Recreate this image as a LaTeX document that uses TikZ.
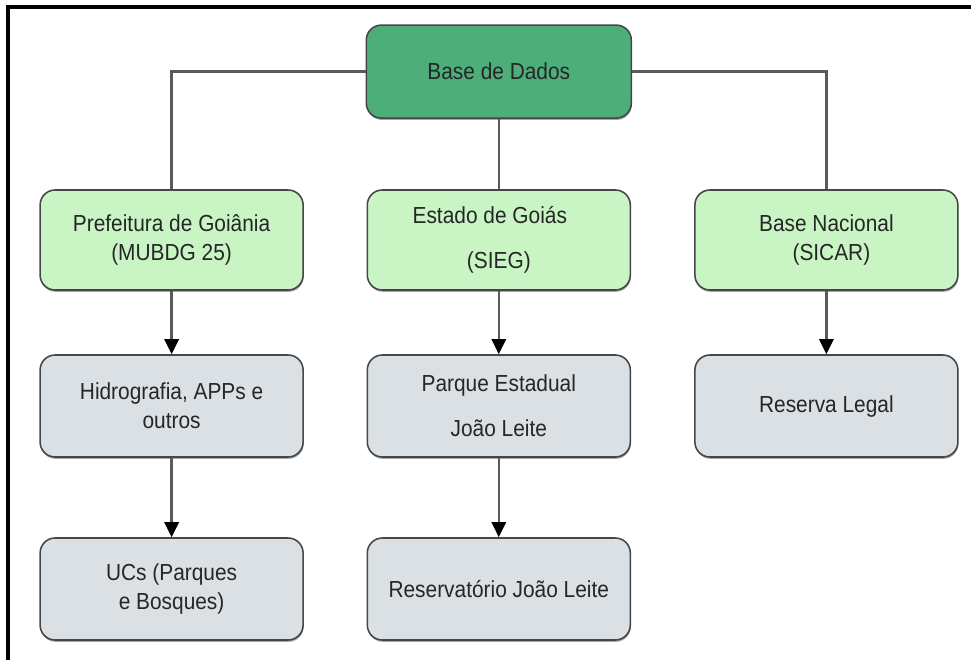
\documentclass[tikz,border=0pt]{standalone}
\usepackage{fontspec}
\setmainfont[FakeStretch=0.9]{Liberation Sans}
\usetikzlibrary{arrows.meta,shadows}
\definecolor{dadosgreen}{RGB}{77,174,122}
\definecolor{fontegreen}{RGB}{200,245,195}
\definecolor{camadagray}{RGB}{218,224,227}
\definecolor{bordagray}{RGB}{70,70,70}
\definecolor{linhagray}{RGB}{90,90,90}

\begin{document}
\begin{tikzpicture}[
    caixa/.style={draw=bordagray, line width=1.1pt, rounded corners=0.375cm,
      minimum width=6.575cm, minimum height=2.5cm, align=center, text=black!85,
      font=\fontsize{16.5}{20.5}\selectfont,
      drop shadow={shadow xshift=0.4pt, shadow yshift=-1.3pt, fill=black, opacity=0.35}},
    fonte/.style={caixa, fill=fontegreen},
    camada/.style={caixa, fill=camadagray, minimum height=2.55cm},
    ligacao/.style={draw=linhagray, line width=1.6pt},
    seta/.style={ligacao, -{Triangle[length=0.38cm, width=0.36cm, black]}}
  ]
  \useasboundingbox (0,0) rectangle (24.275,-16.475);
  \draw[line width=2.2pt] (0.2,-16.6) -- (0.2,-0.175) -- (24.4,-0.175);

  % nodes
  \node[caixa, fill=dadosgreen, minimum width=6.625cm, minimum height=2.325cm] (dados) at (12.47,-1.79) {Base de Dados};
  \node[fonte] (prefeitura) at (4.29,-6.0) {Prefeitura de Goiânia\\(MUBDG 25)};
  \node[fonte] (estado) at (12.47,-6.0) {Estado de Goiás\hspace*{0.45cm}\\[0.4cm](SIEG)};
  \node[fonte] (nacional) at (20.66,-6.0) {Base Nacional\\\hspace*{0.25cm}(SICAR)};
  \node[camada] (hidrografia) at (4.29,-10.15) {Hidrografia, APPs e\\outros};
  \node[camada] (parque) at (12.47,-10.15) {Parque Estadual\\[0.4cm]João Leite};
  \node[camada] (reserva) at (20.66,-10.15) {Reserva Legal};
  \node[camada] (ucs) at (4.29,-14.725) {UCs (Parques\\e Bosques)};
  \node[camada] (reservatorio) at (12.47,-14.725) {Reservatório João Leite};

  % connectors
  \draw[ligacao] (dados.west) -| (prefeitura.north);
  \draw[ligacao] (dados.east) -| (nacional.north);
  \draw[ligacao] (dados.south) -- (estado.north);
  \draw[seta] (prefeitura.south) -- (hidrografia.north);
  \draw[seta] (estado.south) -- (parque.north);
  \draw[seta] (nacional.south) -- (reserva.north);
  \draw[seta] (hidrografia.south) -- (ucs.north);
  \draw[seta] (parque.south) -- (reservatorio.north);
\end{tikzpicture}
\end{document}
